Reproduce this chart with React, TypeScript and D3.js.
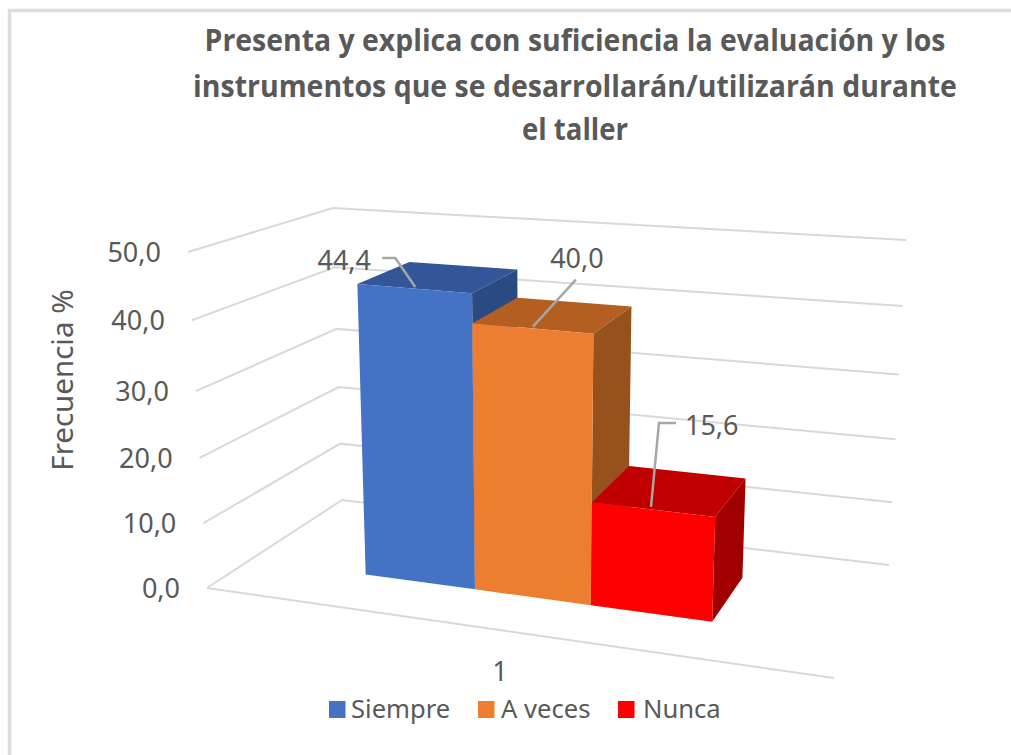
import React, { useEffect, useRef } from 'react'
import * as d3 from 'd3'

const titleLines = [
  'Presenta y explica con suficiencia la evaluación y los',
  'instrumentos que se desarrollarán/utilizarán durante',
  'el taller',
]
const titleBaselines = [51, 97, 140]
const titleWidths = [741, 764, 106]
const categories = ['1']
const seriesNames = ['Siempre', 'A veces', 'Nunca']
const seriesValues = [44.4, 40.0, 15.6]
const valueTicks = [0, 10, 20, 30, 40, 50]

const frontColors = ['#4472c4', '#ed7d31', '#ff0000']
const topColors = ['#325697', '#b55e21', '#c00000']
const sideColors = ['#2a4a82', '#97511d', '#a00000']

const FONT = '"Noto Sans", sans-serif'
const TEXT = '#595959'
const GRID = '#d9d9d9'

// corners of the 3d box on the page
const floor = { fl: [207, 588], fr: [834, 678], bl: [342, 500], br: [889, 565] }
const ceil = { fl: [188, 252], fr: [852, 308], bl: [333, 208], br: [906, 240] }

// value axis is slightly stretched by the perspective
const yScale = d3.scaleLinear().domain(valueTicks).range([0, 0.193, 0.387, 0.586, 0.797, 1])
// bar edges across the floor, front bars get a bit wider
const edgeScale = d3.scaleLinear().domain([0, 1, 2, 3]).range([0.19, 0.372, 0.565, 0.767])
const depthFront = 0.33
const depthBack = 0.74

const mix = (a: number, b: number, t: number) => a + (b - a) * t

function project(u: number, w: number, v: number): [number, number] {
  const t = yScale(v)
  const corner = (k: 'fl' | 'fr' | 'bl' | 'br', i: number) => mix(floor[k][i], ceil[k][i], t)
  const at = (i: number) =>
    mix(mix(corner('fl', i), corner('fr', i), u), mix(corner('bl', i), corner('br', i), u), w)
  return [at(0), at(1)]
}

const line = d3.line()
const poly = (pts: [number, number][]) => line(pts) + 'Z'
const fmt = (v: number) => d3.format('.1f')(v).replace('.', ',')

// label text position relative to the point on the bar, and leader elbow
const labelOffsets = [
  { shift: -3, dx: -71, dy: -17, anchor: 'middle', elbow: [[-20, -29], [-33, -29]] },
  { shift: -3, dx: 44, dy: -59, anchor: 'middle', elbow: [[43, -47]] },
  { shift: -5, dx: 34, dy: -72, anchor: 'start', elbow: [[8, -84], [25, -84]] },
]
const legendSwatchX = [329, 478, 618]
const legendTextX = [351, 501, 643]

export default function App() {
  const titleRef = useRef<SVGGElement>(null)

  // squeeze the bold title lines to the narrow look of the original
  useEffect(() => {
    d3.select(titleRef.current)
      .selectAll<SVGTextElement, unknown>('text')
      .attr('transform', function (_, i) {
        const sx = titleWidths[i] / this.getComputedTextLength()
        return `translate(575,${titleBaselines[i]}) scale(${sx},1)`
      })
  }, [])

  return (
    <svg
      width={1011}
      height={755}
      style={{ position: 'absolute', left: 0, top: 0, background: '#fff' }}
      fontFamily={FONT}
    >
      <path d="M9.5 755V10.5H1011" fill="none" stroke="#dcdcdc" strokeWidth={3.5} />

      <g ref={titleRef}>
        {titleLines.map((t, i) => (
          <text
            key={i}
            textAnchor="middle"
            fontFamily='"Open Sans", sans-serif'
            fontWeight="bold"
            fontSize={31}
            fill={TEXT}
            transform={`translate(575,${titleBaselines[i]}) scale(0.8,1)`}
          >
            {t}
          </text>
        ))}
      </g>

      {valueTicks.map((v) => (
        <path
          key={v}
          d={line([project(0, 0, v), project(0, 1, v), project(1, 1, v)]) as string}
          fill="none"
          stroke={GRID}
          strokeWidth={2}
        />
      ))}
      <path d={line([project(0, 0, 0), project(1, 0, 0)]) as string} fill="none" stroke={GRID} strokeWidth={2} />

      {valueTicks.map((v) => {
        const [x, y] = project(0, 0, v)
        return (
          <text key={v} x={x - 27} y={y + 10} textAnchor="end" fontSize={27} fill={TEXT}>
            {fmt(v)}
          </text>
        )
      })}

      <text transform="translate(73,380) rotate(-90)" textAnchor="middle" fontSize={29.5} fill={TEXT}>
        Frecuencia %
      </text>

      {seriesValues.map((value, i) => {
        const u0 = edgeScale(i)
        const u1 = edgeScale(i + 1)
        const a = project(u0, depthFront, value)
        const b = project(u1, depthFront, value)
        const c = project(u1, depthBack, value)
        const d = project(u0, depthBack, value)
        const a0 = project(u0, depthFront, 0)
        const b0 = project(u1, depthFront, 0)
        const c0 = project(u1, depthBack, 0)
        return (
          <g key={seriesNames[i]}>
            <path d={poly([a, b, c, d])} fill={topColors[i]} />
            <path d={poly([b, c, c0, b0])} fill={sideColors[i]} />
            <path d={poly([a, b, b0, a0])} fill={frontColors[i]} />
          </g>
        )
      })}

      {seriesValues.map((value, i) => {
        const o = labelOffsets[i]
        const p = project((edgeScale(i) + edgeScale(i + 1)) / 2, depthFront + 0.03, value)
        const px = p[0] + o.shift
        const py = p[1]
        const pts: [number, number][] = [[px, py], ...o.elbow.map(([x, y]) => [px + x, py + y] as [number, number])]
        return (
          <g key={i}>
            <path d={line(pts) as string} fill="none" stroke="#a6a6a6" strokeWidth={2.5} />
            <text x={px + o.dx} y={py + o.dy} textAnchor={o.anchor} fontSize={27} fill={TEXT}>
              {fmt(value)}
            </text>
          </g>
        )
      })}

      <text x={500} y={681} textAnchor="middle" fontSize={27} fill={TEXT}>
        {categories[0]}
      </text>

      {seriesNames.map((name, i) => (
        <g key={name}>
          <rect x={legendSwatchX[i]} y={701} width={16.5} height={17} fill={frontColors[i]} />
          <text x={legendTextX[i]} y={718} fontSize={25.6} fill={TEXT}>
            {name}
          </text>
        </g>
      ))}
    </svg>
  )
}
